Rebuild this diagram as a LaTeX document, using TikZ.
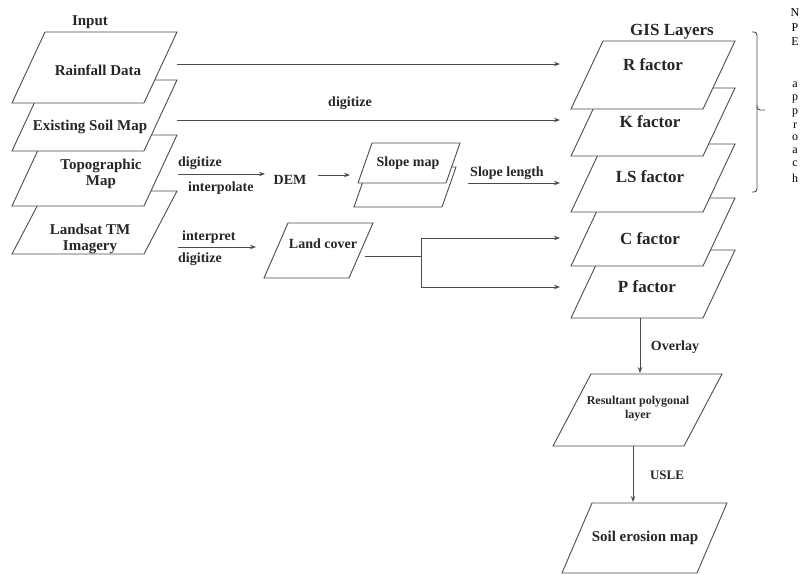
\documentclass[tikz,border=0pt]{standalone}
\usepackage{fontspec}
\setmainfont{Liberation Serif}
\usetikzlibrary{arrows.meta}

% parallelogram: top-left x, top-left y, width, height, slant
\newcommand{\plg}[5]{\filldraw[lyr] (#1,#2) -- ++(#3,0) -- ++(-#5,#4) -- ++(-#3,0) -- cycle;}

\tikzset{
	lyr/.style={draw=black!70, fill=white, line width=0.9pt},
	conn/.style={draw=black!70, line width=0.9pt},
	lbl/.style={font=\bfseries\fontsize{15}{16.5}\selectfont, inner sep=0pt, align=center, text=black!85},
	fac/.style={font=\bfseries\fontsize{17}{19}\selectfont, inner sep=0pt, text=black!85},
	small/.style={font=\bfseries\fontsize{14}{16}\selectfont, inner sep=0pt, text=black!85},
	ltr/.style={font=\fontsize{12}{13}\selectfont, inner sep=0pt},
}

\begin{document}
\begin{tikzpicture}[x=1pt, y=-1pt, >={Stealth[length=6pt, width=4.5pt]}]
	\useasboundingbox (0,0) rectangle (804,575);

	% input layers
	\plg{45}{191}{132}{63}{33}
	\plg{45}{135}{132}{71}{33}
	\plg{45}{80}{132}{71}{33}
	\plg{45}{32}{132}{71}{33}
	\node[lbl] (input) at (90,22) {Input};
	\node[lbl] (rain) at (98,70) {Rainfall Data};
	\node[lbl] (soil) at (90,127) {Existing Soil Map};
	\node[lbl] (topo) at (101,174) {Topographic\\Map};
	\node[lbl] (landsat) at (90,239) {Landsat TM\\Imagery};

	% GIS layers
	\plg{603}{250}{132}{68}{32}
	\plg{603}{198}{132}{68}{32}
	\plg{603}{144}{132}{68}{32}
	\plg{603}{88}{132}{68}{32}
	\plg{603}{41}{132}{68}{32}
	\node[fac] (gis) at (672,32) {GIS Layers};
	\node[fac] (rfac) at (653,65) {R factor};
	\node[fac] (kfac) at (650,122) {K factor};
	\node[fac] (lsfac) at (650,177) {LS factor};
	\node[fac] (cfac) at (650,239) {C factor};
	\node[fac] (pfac) at (647,287) {P factor};

	% middle steps
	\plg{368}{167}{88}{40}{14}
	\plg{372}{143}{88}{40}{14}
	\plg{288}{223}{85}{55}{24}
	\node[small] (dem) at (290,180) {DEM};
	\node[small] (slope) at (408,163) {Slope map};
	\node[small] (lcover) at (323,244) {Land cover};

	% outputs
	\plg{591}{374}{131}{72}{38}
	\plg{592}{503}{135}{70}{30}
	\node[font=\bfseries\fontsize{12}{14}\selectfont, align=center, text=black!85] (result) at (638,409) {Resultant polygonal\\layer};
	\node[lbl] (erosion) at (645,538) {Soil erosion map};

	% connector ends
	\coordinate (rainout) at (177,64);
	\coordinate (rfacin) at (560,64);
	\coordinate (soilout) at (177,120);
	\coordinate (kfacin) at (560,120);
	\coordinate (topoout) at (178,174);
	\coordinate (demin) at (265,174);
	\coordinate (demout) at (318,175);
	\coordinate (slopein) at (350,175);
	\coordinate (slopeout) at (468,183);
	\coordinate (lsfacin) at (560,183);
	\coordinate (landout) at (178,247);
	\coordinate (lcoverin) at (256,247);
	\coordinate (lcoverout) at (365,256);
	\coordinate (split) at (421,256);
	\coordinate (splitc) at (421,238);
	\coordinate (splitp) at (421,287);
	\coordinate (cfacin) at (560,238);
	\coordinate (pfacin) at (560,287);
	\coordinate (pfacout) at (640,318);
	\coordinate (resultin) at (640,373);
	\coordinate (resultout) at (633,446);
	\coordinate (erosionin) at (633,502);

	\draw[conn, ->] (rainout) -- (rfacin);
	\draw[conn, ->] (soilout) -- (kfacin);
	\draw[conn, ->] (topoout) -- (demin);
	\draw[conn, ->] (demout) -- (slopein);
	\draw[conn, ->] (slopeout) -- (lsfacin);
	\draw[conn, ->] (landout) -- (lcoverin);
	\draw[conn] (lcoverout) -- (split);
	\draw[conn] (splitc) -- (splitp);
	\draw[conn, ->] (splitc) -- (cfacin);
	\draw[conn, ->] (splitp) -- (pfacin);
	\draw[conn, ->] (pfacout) -- (resultin);
	\draw[conn, ->] (resultout) -- (erosionin);

	% connector labels
	\node[small] (dig1) at (350,103) {digitize};
	\node[small, anchor=west] (dig2) at (178,163) {digitize};
	\node[small, anchor=west] (interp) at (188,188) {interpolate};
	\node[small] (slen) at (507,173) {Slope length};
	\node[small, anchor=west] (interpr) at (182,237) {interpret};
	\node[small, anchor=west] (dig3) at (178,259) {digitize};
	\node[small] (overlay) at (675,347) {Overlay};
	\node[font=\bfseries\fontsize{13}{15}\selectfont, text=black!85] (usle) at (667,475) {USLE};

	% bracket and approach label
	\draw[conn, rounded corners=3pt] (752,32) -| (757,110) -- (765,110);
	\draw[conn, rounded corners=3pt] (757,105) |- (752,192);
	\foreach \ch/\yy [count=\i] in {N/13, P/28, E/42, a/85, p/99, p/113, r/126, o/138, a/151, c/164, h/178}
		\node[ltr] (npe\i) at (795,\yy) {\ch};
\end{tikzpicture}
\end{document}
